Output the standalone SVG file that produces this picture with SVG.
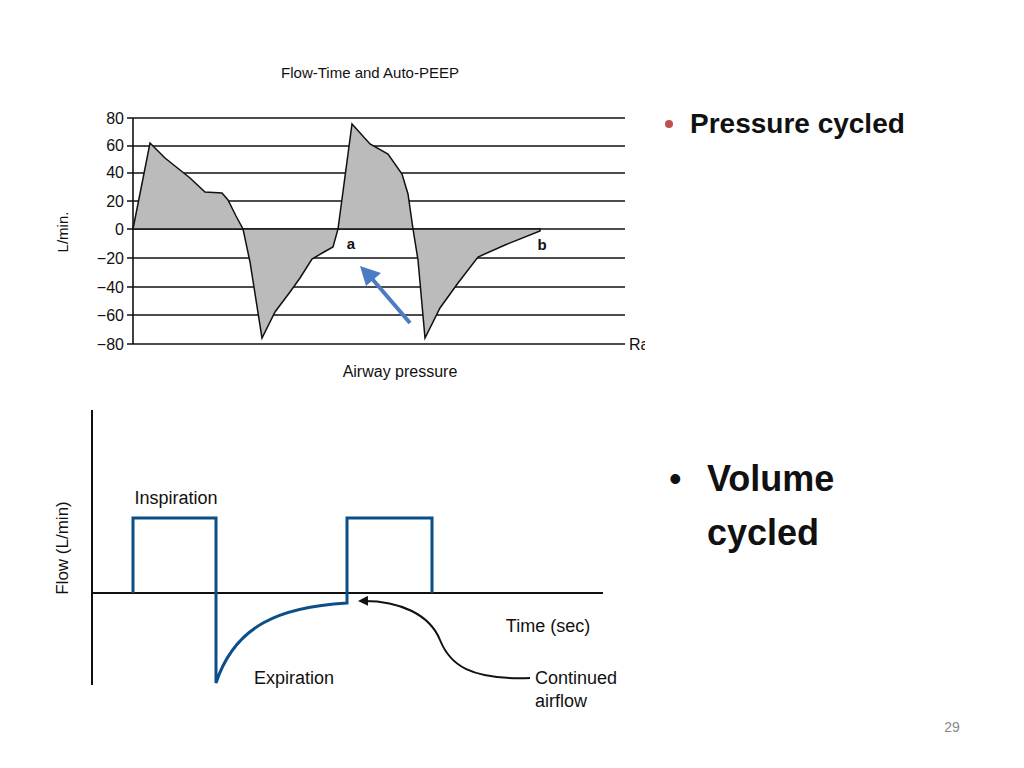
<svg xmlns="http://www.w3.org/2000/svg" width="1024" height="768" viewBox="0 0 1024 768">
<style>
.g{stroke:#111;stroke-width:1.6}
.t{font-family:"Liberation Sans",Arial,sans-serif;fill:#111}
.b{stroke:#0b4f88;stroke-width:3;fill:none}
</style>
<defs><marker id="ah" markerWidth="10" markerHeight="10" refX="8" refY="5" orient="auto" markerUnits="userSpaceOnUse"><path d="M0,0 L10,5 L0,10 Z" fill="#111"/></marker></defs>
<rect width="1024" height="768" fill="#fff"/>
<text class="t" x="370" y="78" font-size="15" text-anchor="middle">Flow-Time and Auto-PEEP</text>
<g>
<line class="g" x1="127" y1="118" x2="625" y2="118"/>
<line class="g" x1="127" y1="146" x2="625" y2="146"/>
<line class="g" x1="127" y1="173" x2="625" y2="173"/>
<line class="g" x1="127" y1="201" x2="625" y2="201"/>
<line class="g" x1="127" y1="229" x2="625" y2="229"/>
<line class="g" x1="127" y1="258" x2="625" y2="258"/>
<line class="g" x1="127" y1="287" x2="625" y2="287"/>
<line class="g" x1="127" y1="315" x2="625" y2="315"/>
<line class="g" x1="127" y1="344" x2="625" y2="344"/>
<line class="g" x1="133" y1="118" x2="133" y2="344"/>
</g>
<path d="M133,229 L150,143 L165,158 L190,178 L205,192 L222,193 L228,200 L236,216 L243,229 Z" fill="#bbb" stroke="#111" stroke-width="1.5"/>
<path d="M243,229 L250,262 L262,338 L275,312 L290,292 L300,278 L312,259 L324,252 L333,247 L338,229 Z" fill="#bbb" stroke="#111" stroke-width="1.5"/>
<path d="M338,229 L352,124 L370,144 L388,154 L402,174 L408,194 L413,229 Z" fill="#bbb" stroke="#111" stroke-width="1.5"/>
<path d="M413,229 L418,260 L425,338 L440,308 L458,283 L478,257 L505,245 L540,231 L540,229 Z" fill="#bbb" stroke="#111" stroke-width="1.5"/>
<g class="t" font-size="16" text-anchor="end">
<text x="124" y="124">80</text><text x="124" y="151">60</text><text x="124" y="178">40</text><text x="124" y="207">20</text><text x="124" y="235">0</text><text x="124" y="264">−20</text><text x="124" y="293">−40</text><text x="124" y="321">−60</text><text x="124" y="350">−80</text>
</g>
<text class="t" x="68" y="232" font-size="15" text-anchor="middle" transform="rotate(-90 68 232)">L/min.</text>
<text class="t" x="351" y="249" font-size="15" font-weight="bold" text-anchor="middle">a</text>
<text class="t" x="542" y="250" font-size="15" font-weight="bold" text-anchor="middle">b</text>
<text class="t" x="629" y="350" font-size="16">Ra</text>
<rect x="645" y="330" width="30" height="30" fill="#fff"/>
<text class="t" x="400" y="377" font-size="16" text-anchor="middle">Airway pressure</text>
<line x1="410" y1="323" x2="368" y2="274" stroke="#4a7cc4" stroke-width="4"/>
<path d="M360,266 L381,273 L366,286 Z" fill="#4a7cc4"/>
<g>
<line x1="92" y1="410" x2="92" y2="685" stroke="#111" stroke-width="2"/>
<line x1="92" y1="593" x2="603" y2="593" stroke="#111" stroke-width="2"/>
<path class="b" d="M133,593 V518 H216 V683 C235,625 280,607 347,603 V518 H432 V593"/>
</g>
<text class="t" x="68" y="548" font-size="17" text-anchor="middle" transform="rotate(-90 68 548)">Flow (L/min)</text>
<text class="t" x="176" y="504" font-size="18" text-anchor="middle">Inspiration</text>
<text class="t" x="294" y="684" font-size="18" text-anchor="middle">Expiration</text>
<text class="t" x="548" y="632" font-size="18" text-anchor="middle">Time (sec)</text>
<text class="t" x="535" y="684" font-size="18">Continued</text>
<text class="t" x="535" y="707" font-size="18">airflow</text>
<path d="M530,678 C470,680 450,665 440,640 C430,615 400,600 360,601" fill="none" stroke="#111" stroke-width="2" marker-end="url(#ah)"/>
<circle cx="669" cy="124" r="4" fill="#c0504d"/>
<text class="t" x="690" y="133" font-size="28" font-weight="bold">Pressure cycled</text>
<text class="t" x="669" y="491" font-size="36">•</text>
<text class="t" x="707" y="491" font-size="36" font-weight="bold">Volume</text>
<text class="t" x="707" y="545" font-size="36" font-weight="bold">cycled</text>
<text class="t" x="952" y="732" font-size="14" fill="#888" style="fill:#888" text-anchor="middle">29</text>
</svg>
